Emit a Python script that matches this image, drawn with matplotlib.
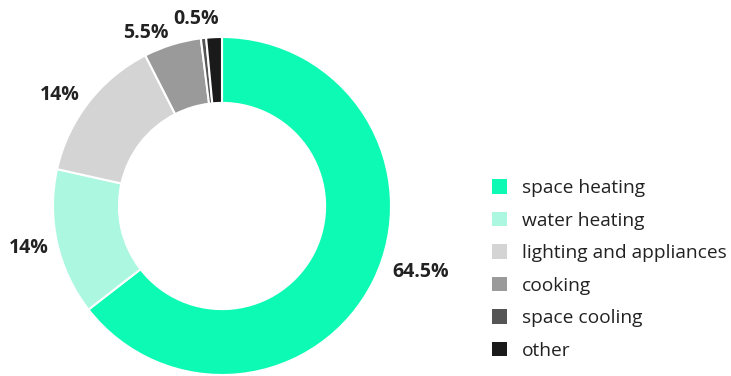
import numpy as np
import matplotlib
matplotlib.use("Agg")
import matplotlib.pyplot as plt
from matplotlib.patches import Patch

categories = ["space heating", "water heating", "lighting and appliances",
              "cooking", "space cooling", "other"]
values = [64.5, 14, 14, 5.5, 0.5, 1.5]
labels = ["64.5%", "14%", "14%", "5.5%", "0.5%", ""]
colors = ["#0CFAB4", "#ABF7E0", "#D4D4D4", "#9A9A9A", "#555555", "#1A1A1A"]

# label layout (angle nudge in degrees, radial distance in radius units)
label_nudge = [7.7, -0.4, 3.4, 6.5, 1.6, 0]
label_dist = [1.24, 1.17, 1.16, 1.12, 1.12, 1.1]

W, H = 731, 376
fig = plt.figure(figsize=(W / 100, H / 100), dpi=100)
plt.rcParams['font.family'] = ['Open Sans', 'DejaVu Sans']

cx, cy, r = 222, 206, 169
ax = fig.add_axes([(cx - r) / W, (H - cy - r) / H, 2 * r / W, 2 * r / H])
wedges, _ = ax.pie(values, colors=colors, startangle=90, counterclock=False,
                   radius=1, wedgeprops=dict(width=0.39, edgecolor="white", linewidth=1.5))
ax.set_xlim(-1, 1)
ax.set_ylim(-1, 1)
ax.set_aspect("equal")
ax.axis("off")

total = sum(values)
start = 90.0
for v, lab, nd, d in zip(values, labels, label_nudge, label_dist):
    span = 360.0 * v / total
    mid = np.deg2rad(start - span / 2 + nd)
    start -= span
    if not lab:
        continue
    ax.text(d * np.cos(mid), d * np.sin(mid), lab, ha="center", va="center",
            fontsize=14, fontweight="bold", color="#222222", clip_on=False)

handles = [Patch(facecolor=c, edgecolor="none") for c in colors]
fig.legend(handles, categories, loc="upper left", bbox_to_anchor=(492 / W, 1 - 179 / H),
           frameon=False, fontsize=13.8, handlelength=0.78, handleheight=0.78,
           handletextpad=0.78, labelspacing=0.76, borderpad=0, borderaxespad=0,
           labelcolor="#222222")

fig.savefig("out.png", dpi=100, facecolor="white")
